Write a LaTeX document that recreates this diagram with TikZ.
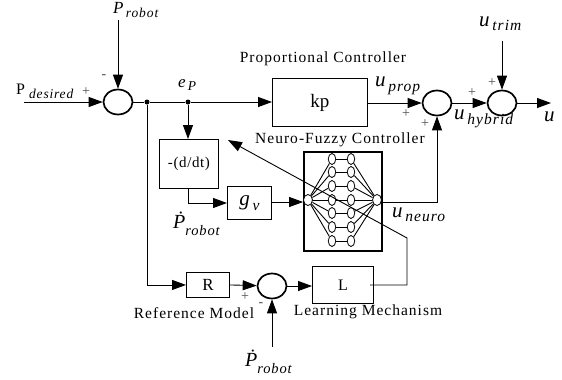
\documentclass[tikz,border=0pt]{standalone}
\usepackage{fontspec}
\setmainfont{Liberation Serif}
\usetikzlibrary{arrows.meta,shapes.geometric}
\newcommand{\fs}[1]{\fontsize{#1}{#1}\selectfont}
\newcommand{\lab}[2]{{\itshape\fs{17}#1\raisebox{-3.5pt}{\addfontfeatures{LetterSpace=7}\fs{13.5}\,#2}}}
\newcommand{\ulab}[2]{{\itshape\fs{21}#1\raisebox{-4.5pt}{\addfontfeatures{LetterSpace=7}\fs{15.5}\,#2}}}
\newcommand{\dlab}[1]{{\itshape\fs{20}\.{P}\raisebox{-7pt}{\addfontfeatures{LetterSpace=6}\fs{14.5}#1}}}
\tikzset{
  x=1pt,y=-1pt,
  summer/.style={draw,ellipse,line width=1.7pt,minimum width=29pt,minimum height=25pt,inner sep=0pt},
  blockbox/.style={draw,line width=0.9pt,rectangle,inner sep=0pt,anchor=north west,font=\fs{14}},
  neuron/.style={draw,ellipse,line width=0.8pt,fill=white,minimum width=7.5pt,minimum height=11pt,inner sep=0pt},
  endneuron/.style={neuron,minimum width=9pt},
  wire/.style={line width=0.9pt},
  arrow/.style={wire,-{Triangle[length=14pt,width=10pt]}},
  dotj/.style={circle,fill=black,inner sep=0pt,minimum size=5pt},
  txt/.style={inner sep=0pt,font=\addfontfeatures{LetterSpace=6.5}\fs{15.5}},
  sgn/.style={inner sep=0pt,font=\fs{14},text=black!70},
  math/.style={inner sep=0pt,anchor=west}
}
\begin{document}
\begin{tikzpicture}
\useasboundingbox[fill=white] (0,0) rectangle (562,380);
% summers
\node[summer] (s1) at (118,102) {};
\node[summer] (s2) at (437,103) {};
\node[summer] (s3) at (502,103) {};
\node[summer] (s4) at (272,286) {};
% blocks
\node[blockbox,minimum width=95pt,minimum height=48pt,font=\fs{19}] (kp) at (272,78) {kp};
\node[blockbox,minimum width=59pt,minimum height=49pt,font=\addfontfeatures{LetterSpace=4}\fs{15}] (ddt) at (159,139) {-(d/dt)};
\node[blockbox,minimum width=44pt,minimum height=33pt] (gv) at (227,186) {\ulab{g}{v}};
\node[blockbox,line width=1.9pt,minimum width=78pt,minimum height=99pt] (nn) at (303,151) {};
\node[blockbox,minimum width=43pt,minimum height=25pt,font=\fs{17}] (R) at (186,272) {R};
\node[blockbox,minimum width=61pt,minimum height=37pt,font=\fs{16}] (L) at (312,266) {L};
% network
\node[endneuron] (in) at (308,200) {};
\node[endneuron] (out) at (377,200) {};
\foreach \i/\yy in {1/159,2/172,3/186,4/200,5/213,6/227,7/241}{
  \node[neuron] (a\i) at (332,\yy) {};
  \node[neuron] (b\i) at (351,\yy) {};
  \draw[wire] (in) -- (a\i);
  \draw[wire] (a\i) -- (b\i);
  \draw[wire] (b\i) -- (out);
}
% junctions and free ends
\node[dotj] (j1) at (147,102) {};
\node[dotj] (j2) at (188,102) {};
\coordinate (pin) at (24,102);
\coordinate (ptop) at (118,20);
\coordinate (utop) at (502,41);
\coordinate (uout) at (551,103);
\coordinate (pbot) at (272,347);
\coordinate (lstart) at (370,285);
\coordinate (lc1) at (407,285);
\coordinate (lc2) at (407,238);
\coordinate (ltip) at (228,140);
% connectors
\draw[arrow] (pin) -- (s1);
\draw[arrow] (ptop) -- (s1);
\draw[wire] (s1) -- (j1);
\draw[wire] (j1) -- (j2);
\draw[arrow] (j2) -- (kp.west |- j2);
\draw[arrow] (j2) -- (ddt.north -| j2);
\draw[arrow] (ddt.south -| j2) |- (gv.west |- 0,203);
\draw[arrow] (gv.east |- 0,202) -- (in.west |- 0,202);
\draw[arrow] (j1) |- (R.west);
\draw[arrow] (R.east) -- (s4);
\draw[arrow] (s4) -- (L.west |- s4);
\draw[arrow] (kp.east |- s2) -- (s2);
\draw[arrow] (s2) -- (s3);
\draw[arrow] (utop) -- (s3);
\draw[arrow] (s3) -- (uout);
\draw[arrow] (nn.east |- 0,202) -| (s2);
\draw[arrow] (pbot) -- (s4);
\draw[arrow] (lstart) -- (lc1) -- (lc2) -- (ltip);
% labels
\node[math] (t1) at (113,10) {\lab{P}{robot}};
\node[inner sep=0pt,anchor=west,font=\fs{16}] (t2) at (16,89) {P};
\node[math] (t3) at (29,94) {{\itshape\addfontfeatures{LetterSpace=6}\fs{13.5}desired}};
\node[sgn] (p1) at (86,92) {+};
\node[sgn] (m1) at (104,77) {-};
\node[math] (t4) at (178,85) {\lab{e}{P}};
\node[txt] (t5) at (323,59) {Proportional Controller};
\node[math] (t6) at (375,86) {\ulab{u}{prop}};
\node[sgn] (p2) at (406,114) {+};
\node[sgn] (p3) at (425,124) {+};
\node[sgn] (p4) at (472,93) {+};
\node[sgn] (p5) at (492,83) {+};
\node[math] (t7) at (454,119) {\ulab{u}{hybrid}};
\node[math] (t8) at (544,117) {{\itshape\fs{21}u}};
\node[math] (t9) at (479,24) {\ulab{u}{trim}};
\node[txt] (t10) at (340,140) {Neuro-Fuzzy Controller};
\node[math] (t11) at (173,224) {\dlab{robot}};
\node[math] (t12) at (392,215) {\ulab{u}{neuro}};
\node[sgn] (p6) at (245,297) {+};
\node[sgn] (m2) at (261,305) {-};
\node[txt] (t13) at (194,313) {Reference Model};
\node[txt] (t14) at (368,312) {Learning Mechanism};
\node[math] (t15) at (245,362) {\dlab{robot}};
\end{tikzpicture}
\end{document}
